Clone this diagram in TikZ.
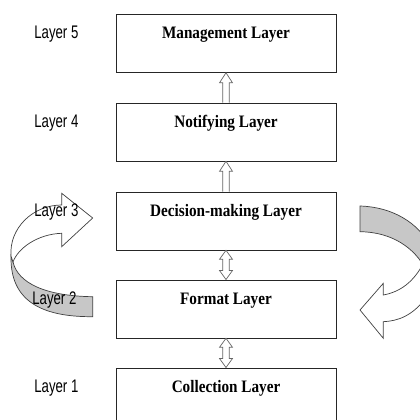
\documentclass[tikz,border=0pt]{standalone}
\usepackage{fontspec}
\usepackage{graphicx}
\setmainfont{Liberation Serif}
\newfontfamily\arialf{Liberation Sans}
\usetikzlibrary{calc}
\begin{document}
\begin{tikzpicture}[x=1pt,y=-1pt]
\tikzset{
  layerbox/.style={draw=black!85, line width=0.8pt, minimum width=220pt,
    inner xsep=0pt, inner ysep=0pt, text height=24.3pt, text depth=33.7pt,
    font=\bfseries\fontsize{15.2}{18}\selectfont, anchor=north},
  layerlbl/.style={inner sep=0pt, anchor=base east, font=\arialf\fontsize{13.2}{15}\selectfont},
  hollow/.style={draw=black!60, line width=0.7pt, fill=white, line join=miter},
  ribbonwhite/.style={draw=black!75, line width=0.7pt, fill=white, line join=miter},
  ribbongray/.style={draw=black!75, line width=0.7pt, fill=black!22, line join=miter}
}
\useasboundingbox (0,0) rectangle (420,420);
\clip (0,0) rectangle (420,420);

% boxes
\node[layerbox] (n5) at (226,14)    {\scalebox{1}[1.15]{Management Layer}};
\node[layerbox] (n4) at (226,102.5) {\scalebox{1}[1.15]{Notifying Layer}};
\node[layerbox] (n3) at (226,191.5) {\scalebox{1}[1.15]{Decision-making Layer}};
\node[layerbox] (n2) at (226,279.5) {\scalebox{1}[1.15]{Format Layer}};
\node[layerbox] (n1) at (226,367.5) {\scalebox{1}[1.15]{Collection Layer}};

% curved ribbon arrows
\draw[ribbongray] (11,256) .. controls (10,300) and (40,317) .. (92.7,316.7)
  -- (92.7,296.7) .. controls (45,296) and (18,283) .. (13,262) -- cycle;
\draw[ribbonwhite] (11,256) .. controls (9,228) and (33,205) .. (61.7,205)
  -- (61.7,193.3) -- (92.7,218) -- (61.7,246.7) -- (61.7,233.3)
  .. controls (38,234) and (18,248) .. (13,262) -- cycle;

\draw[ribbongray] (360,206) .. controls (392,207) and (418,222) .. (432,248)
  -- (426,270) .. controls (415,248) and (392,232) .. (360,231.7) -- cycle;
\draw[ribbonwhite] (383.3,295) .. controls (400,292) and (414,282) .. (424,262)
  -- (440,270) -- (426,298) .. controls (412,316) and (398,321) .. (383.3,321.7)
  -- (383.3,338.3) -- (360,310) -- (383.3,283.3) -- cycle;

% layer labels
\node[layerlbl] (l5) at ([xshift=-37pt]n5.base west) {\scalebox{1}[1.38]{Layer 5}};
\node[layerlbl] (l4) at ([xshift=-37pt]n4.base west) {\scalebox{1}[1.38]{Layer 4}};
\node[layerlbl] (l3) at ([xshift=-37pt]n3.base west) {\scalebox{1}[1.38]{Layer 3}};
\node[layerlbl] (l2) at ([xshift=-39pt]n2.base west) {\scalebox{1}[1.38]{Layer 2}};
\node[layerlbl] (l1) at ([xshift=-37pt]n1.base west) {\scalebox{1}[1.38]{Layer 1}};

% single hollow up arrows
\foreach \lo/\hi in {n4/n5, n3/n4}{
  \draw[hollow] ([xshift=-3.3pt]\lo.north) -- ([xshift=-3.3pt,yshift=-10pt]\hi.south)
    -- ([xshift=-6.5pt,yshift=-10pt]\hi.south) -- (\hi.south)
    -- ([xshift=6.5pt,yshift=-10pt]\hi.south) -- ([xshift=3.3pt,yshift=-10pt]\hi.south)
    -- ([xshift=3.3pt]\lo.north);
}
% double hollow arrows
\foreach \lo/\hi in {n2/n3, n1/n2}{
  \draw[hollow] (\hi.south) -- ([xshift=6.5pt,yshift=-9pt]\hi.south)
    -- ([xshift=3.3pt,yshift=-9pt]\hi.south) -- ([xshift=3.3pt,yshift=9pt]\lo.north)
    -- ([xshift=6.5pt,yshift=9pt]\lo.north) -- (\lo.north)
    -- ([xshift=-6.5pt,yshift=9pt]\lo.north) -- ([xshift=-3.3pt,yshift=9pt]\lo.north)
    -- ([xshift=-3.3pt,yshift=-9pt]\hi.south) -- ([xshift=-6.5pt,yshift=-9pt]\hi.south)
    -- cycle;
}
\end{tikzpicture}
\end{document}
